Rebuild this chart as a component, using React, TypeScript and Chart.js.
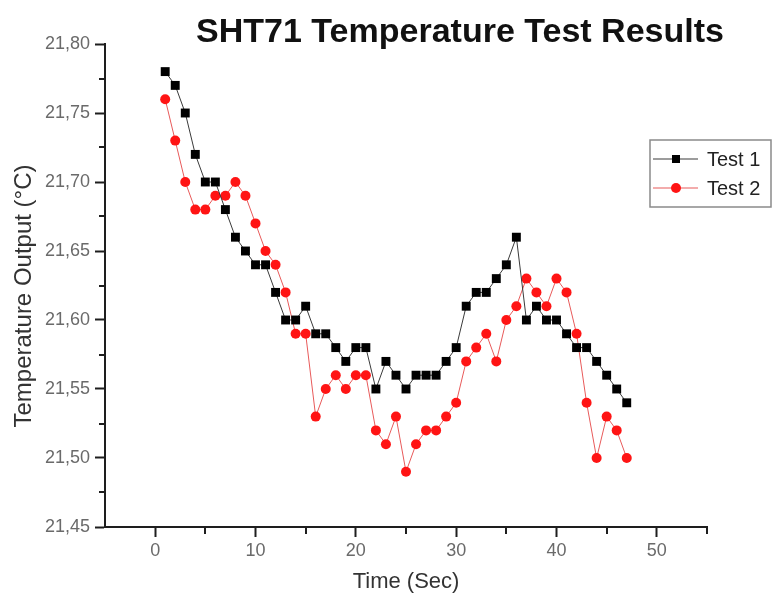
import React, { useEffect, useRef } from 'react';
import { Chart, registerables } from 'chart.js';

Chart.register(...registerables);

const TITLE = 'SHT71 Temperature Test Results';
const X_TITLE = 'Time (Sec)';
const Y_TITLE = 'Temperature Output (°C)';
const SERIES_NAMES = ['Test 1', 'Test 2'];

const timeSec = [
  1, 2, 3, 4, 5, 6, 7, 8, 9, 10, 11, 12, 13, 14, 15, 16, 17, 18, 19, 20, 21, 22, 23, 24,
  25, 26, 27, 28, 29, 30, 31, 32, 33, 34, 35, 36, 37, 38, 39, 40, 41, 42, 43, 44, 45, 46, 47,
];

const test1 = [
  21.78, 21.77, 21.75, 21.72, 21.70, 21.70, 21.68, 21.66, 21.65, 21.64, 21.64, 21.62,
  21.60, 21.60, 21.61, 21.59, 21.59, 21.58, 21.57, 21.58, 21.58, 21.55, 21.57, 21.56,
  21.55, 21.56, 21.56, 21.56, 21.57, 21.58, 21.61, 21.62, 21.62, 21.63, 21.64, 21.66,
  21.60, 21.61, 21.60, 21.60, 21.59, 21.58, 21.58, 21.57, 21.56, 21.55, 21.54,
];

const test2 = [
  21.76, 21.73, 21.70, 21.68, 21.68, 21.69, 21.69, 21.70, 21.69, 21.67, 21.65, 21.64,
  21.62, 21.59, 21.59, 21.53, 21.55, 21.56, 21.55, 21.56, 21.56, 21.52, 21.51, 21.53,
  21.49, 21.51, 21.52, 21.52, 21.53, 21.54, 21.57, 21.58, 21.59, 21.57, 21.60, 21.61,
  21.63, 21.62, 21.61, 21.63, 21.62, 21.59, 21.54, 21.50, 21.53, 21.52, 21.50,
];

const xTicks = [0, 10, 20, 30, 40, 50];
const xMinorTicks = [5, 15, 25, 35, 45, 55];
const yTicks = [21.45, 21.5, 21.55, 21.6, 21.65, 21.7, 21.75, 21.8];
const yMinorTicks = [21.475, 21.525, 21.575, 21.625, 21.675, 21.725, 21.775];

const FONT = '"Liberation Sans", Arial, Helvetica, sans-serif';
const AXIS_COLOR = '#1e1e1e';

const titlePlugin = {
  id: 'customTitle',
  afterDraw(chart: any) {
    const ctx = chart.ctx;
    ctx.save();
    ctx.font = `bold 34px ${FONT}`;
    ctx.fillStyle = '#111';
    ctx.textAlign = 'center';
    ctx.textBaseline = 'alphabetic';
    ctx.fillText(TITLE, 460, 42);
    // y-axis title
    ctx.translate(24, 296);
    ctx.rotate(-Math.PI / 2);
    ctx.font = `24px ${FONT}`;
    ctx.fillStyle = '#333';
    ctx.textBaseline = 'middle';
    ctx.fillText(Y_TITLE, 0, 0);
    ctx.restore();
  },
};

const minorTickPlugin = {
  id: 'minorTicks',
  afterDraw(chart: any) {
    const ctx = chart.ctx;
    const xs = chart.scales.x;
    const ys = chart.scales.y;
    const area = chart.chartArea;
    ctx.save();
    ctx.strokeStyle = AXIS_COLOR;
    ctx.lineWidth = 2;
    ctx.beginPath();
    xMinorTicks.forEach((v) => {
      const px = Math.round(xs.getPixelForValue(v));
      ctx.moveTo(px, area.bottom);
      ctx.lineTo(px, area.bottom + 7);
    });
    yMinorTicks.forEach((v) => {
      const py = Math.round(ys.getPixelForValue(v));
      ctx.moveTo(area.left, py);
      ctx.lineTo(area.left - 6, py);
    });
    ctx.stroke();
    ctx.restore();
  },
};

const legendPlugin = {
  id: 'boxLegend',
  afterDraw(chart: any) {
    const ctx = chart.ctx;
    const x0 = 650;
    const y0 = 140;
    const w = 121;
    const h = 67;
    ctx.save();
    ctx.fillStyle = '#fff';
    ctx.fillRect(x0, y0, w, h);
    ctx.strokeStyle = '#8a8a8a';
    ctx.lineWidth = 1.5;
    ctx.strokeRect(x0, y0, w, h);
    chart.data.datasets.forEach((ds: any, i: number) => {
      const cy = 159 + i * 29;
      ctx.strokeStyle = ds.borderColor;
      ctx.lineWidth = 1.2;
      ctx.beginPath();
      ctx.moveTo(653, cy);
      ctx.lineTo(698, cy);
      ctx.stroke();
      ctx.fillStyle = ds.pointBackgroundColor;
      if (ds.pointStyle === 'rect') {
        ctx.fillRect(672, cy - 4, 8, 8);
      } else {
        ctx.beginPath();
        ctx.arc(676, cy, 5, 0, Math.PI * 2);
        ctx.fill();
      }
      ctx.fillStyle = '#222';
      ctx.font = `20px ${FONT}`;
      ctx.textAlign = 'left';
      ctx.textBaseline = 'middle';
      ctx.fillText(ds.label, 707, cy + 1);
    });
    ctx.restore();
  },
};

export default function App() {
  const canvasRef = useRef<HTMLCanvasElement | null>(null);

  useEffect(() => {
    if (!canvasRef.current) return;
    const chart = new Chart(canvasRef.current, {
      type: 'line',
      data: {
        datasets: [
          {
            label: SERIES_NAMES[0],
            data: timeSec.map((t, i) => ({ x: t, y: test1[i] })),
            borderColor: '#3a3a3a',
            borderWidth: 1,
            pointStyle: 'rect',
            pointRadius: 6.3,
            pointBackgroundColor: '#000000',
            pointBorderColor: '#000000',
            pointBorderWidth: 0,
            tension: 0,
          },
          {
            label: SERIES_NAMES[1],
            data: timeSec.map((t, i) => ({ x: t, y: test2[i] })),
            borderColor: '#e85a5a',
            borderWidth: 1,
            pointStyle: 'circle',
            pointRadius: 5,
            pointBackgroundColor: '#ff1414',
            pointBorderColor: '#ff1414',
            pointBorderWidth: 0,
            tension: 0,
          },
        ],
      },
      options: {
        responsive: false,
        animation: false,
        events: [],
        layout: { padding: { top: 44, right: 67, bottom: 0, left: 0 } },
        plugins: {
          legend: { display: false },
          title: { display: false },
          tooltip: { enabled: false },
        },
        scales: {
          x: {
            type: 'linear',
            min: -5,
            max: 55,
            afterBuildTicks: (scale: any) => {
              scale.ticks = xTicks.map((v) => ({ value: v }));
            },
            afterFit: (scale: any) => {
              scale.height = 78;
            },
            border: { display: true, color: AXIS_COLOR, width: 2 },
            grid: {
              display: true,
              drawOnChartArea: false,
              drawTicks: true,
              tickLength: 10,
              tickColor: AXIS_COLOR,
              tickWidth: 2,
            },
            ticks: {
              color: '#6a6a6a',
              font: { family: FONT, size: 18 },
              padding: 3,
              maxRotation: 0,
              autoSkip: false,
              callback: (v: any) => String(v),
            },
            title: {
              display: true,
              text: X_TITLE,
              color: '#333',
              font: { family: FONT, size: 22 },
              padding: { top: 0, bottom: 10 },
            },
          },
          y: {
            type: 'linear',
            min: 21.45,
            max: 21.8,
            afterBuildTicks: (scale: any) => {
              scale.ticks = yTicks.map((v) => ({ value: v }));
            },
            afterFit: (scale: any) => {
              scale.width = 105;
            },
            border: { display: true, color: AXIS_COLOR, width: 2 },
            grid: {
              display: true,
              drawOnChartArea: false,
              drawTicks: true,
              tickLength: 10,
              tickColor: AXIS_COLOR,
              tickWidth: 2,
            },
            ticks: {
              color: '#6a6a6a',
              font: { family: FONT, size: 18 },
              padding: 5,
              autoSkip: false,
              callback: (v: any) => Number(v).toFixed(2).replace('.', ','),
            },
            title: { display: false },
          },
        },
      },
      plugins: [titlePlugin, minorTickPlugin, legendPlugin],
    } as any);
    return () => chart.destroy();
  }, []);

  return (
    <div style={{ position: 'absolute', left: 0, top: 0, width: 774, height: 605, background: '#fff' }}>
      <canvas ref={canvasRef} width={774} height={605} style={{ display: 'block' }} />
    </div>
  );
}
